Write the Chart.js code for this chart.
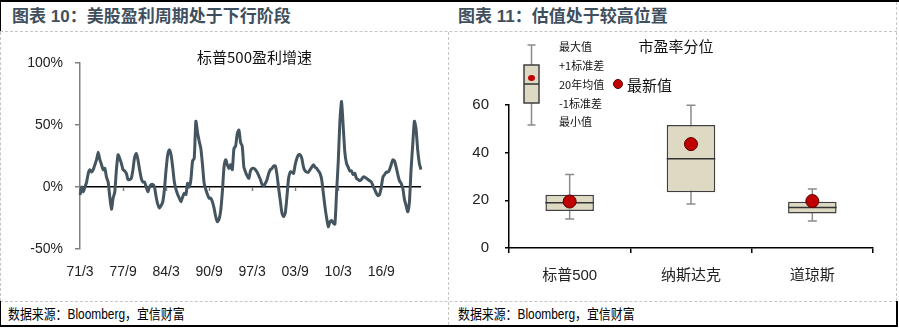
<!DOCTYPE html>
<html>
<head>
<meta charset="utf-8">
<script src="https://cdn.jsdelivr.net/npm/chart.js@4.4.0/dist/chart.umd.min.js"></script>
<style>
  body { margin: 0; background: #fff; }
  #page { position: relative; width: 899px; height: 330px; overflow: hidden; font-family: "Liberation Sans", "Noto Sans CJK SC", sans-serif; }
  .line { position: absolute; }
  .head { position: absolute; top: 3px; height: 28px; line-height: 28px; font-size: 17px; font-weight: bold; color: #404f5e; white-space: nowrap; }
  .source { position: absolute; top: 303px; height: 22px; line-height: 22px; font-size: 14px; color: #000; white-space: nowrap; transform: scaleX(0.85); transform-origin: left center; }
  canvas { position: absolute; top: 32px; }
</style>
</head>
<body>
<div id="page">
  <div class="line" style="left:0;top:0;width:899px;height:2px;background:#000"></div>
  <div class="line" style="left:0;top:0;width:1px;height:31px;background:#000"></div>
  <div class="line" style="left:0;top:31px;width:897px;border-top:1px dashed #c6c6c6"></div>
  <div class="line" style="left:0;top:32px;height:269px;border-left:1px dashed #c6c6c6"></div>
  <div class="line" style="left:448px;top:32px;height:293px;border-left:1px dashed #c6c6c6"></div>
  <div class="line" style="left:896px;top:2px;height:299px;border-left:1px dashed #c6c6c6"></div>
  <div class="line" style="left:0;top:301px;width:897px;border-top:1px dashed #c6c6c6"></div>
  <div class="line" style="left:0;top:301px;width:1px;height:25px;background:#000"></div>
  <div class="line" style="left:896px;top:301px;width:2px;height:25px;background:#000"></div>
  <div class="line" style="left:0;top:325px;width:898px;height:2px;background:#000"></div>

  <div class="head" style="left:12px">图表 10：美股盈利周期处于下行阶段</div>
  <div class="head" style="left:458px">图表 11：估值处于较高位置</div>
  <div class="source" style="left:8px">数据来源：Bloomberg，宜信财富</div>
  <div class="source" style="left:458px">数据来源：Bloomberg，宜信财富</div>

  <canvas id="growthChart" width="448" height="268" style="left:0"></canvas>
  <canvas id="peChart" width="446" height="268" style="left:450px"></canvas>
</div>

<script>
// 标普500盈利同比增速（%），季度，1971/3 起
const growth = [
  -6.5, 0, -4, 0, 4, 11, 14, 12, 14, 18,
  22, 28, 22, 18, 14, 15, 8, 4, -8, -18,
  -9, -4, 14, 26, 23, 19, 14, 13, 11, 6,
  6, 7, 14, 24, 27, 22, 14, 7, 4, 4,
  0, -4, 0, 2, 2, 0, -8, -14, -17, -15,
  -12, -2, 14, 26, 30, 26, 16, 4, -2, -6,
  -9, -12, -8, -5, -6, 3, 0, 6, 21, 23,
  53, 44, 37, 31, 18, 3, -2, -6, -9, -9,
  -12, -17, -24, -28, -26, -19, -4, 16, 22, 18,
  15, 18, 14, 31, 33, 43, 46, 36, 33, 16,
  12, 9, 7, 13, 15, 15, 14, 12, 9, 6,
  2, 1, 3, 6, 11, 14, 15, 17, 17, 10,
  -1, -11, -21, -24, -21, -8, 7, 12, 12, 11,
  18, 23, 26, 26, 23, 16, 13, 12, 12, 14,
  16, 18, 16, 15, 13, 11, 6, -5, -16, -25,
  -32, -28, -27, -29, -30, -4, 20, 53, 69, 49,
  28, 19, 16, 13, 13, 10, 11, 7, 6, 5,
  6, 8, 8, 7, 6, 5, 4, 1, -2, -5,
  -7, -6, 0, 8, 10, 12, 12, 14, 18, 22,
  21, 16, 10, 5, 3, -1, -10, -15, -20, -12,
  14, 34, 53, 47, 30, 19, 14
];
const xTickLabels = ['71/3', '77/9', '84/3', '90/9', '97/3', '03/9', '10/3', '16/9'];

// 市盈率分位
const markets = ['标普500', '纳斯达克', '道琼斯'];
const peMax = [30.8, 59.9, 24.8];
const peUpper = [22.3, 51.6, 19.4];
const peMean = [19.0, 37.5, 17.0];
const peLower = [15.5, 23.4, 14.5];
const peMin = [12.2, 18.5, 11.3];
const peLatest = [19.5, 43.6, 19.7];

const cjk = '"Noto Sans CJK SC", sans-serif';
const latin = '"Liberation Sans", "Noto Sans CJK SC", sans-serif';
const lineColor = '#44555f';

// quarter labels like 71/3, 71/6 ...
const quarterLabels = growth.map((_, i) => {
  const year = 1971 + Math.floor(i / 4);
  const month = (i % 4) * 3 + 3;
  return String(year % 100).padStart(2, '0') + '/' + month;
});

const growthExtras = {
  id: 'growthExtras',
  beforeDatasetsDraw(chart) {
    const { ctx, scales: { x, y } } = chart;
    const y0 = y.getPixelForValue(0);
    ctx.save();
    ctx.strokeStyle = '#808080';
    ctx.lineWidth = 1.5;
    quarterLabels.forEach((lab, i) => {
      if (!xTickLabels.includes(lab)) return;
      const px = Math.round(x.getPixelForValue(i)) + 0.5;
      ctx.beginPath();
      ctx.moveTo(px, y0);
      ctx.lineTo(px, y0 + 4);
      ctx.stroke();
    });
    ctx.restore();
  },
  afterDraw(chart) {
    const { ctx, chartArea } = chart;
    ctx.save();
    ctx.font = '15px ' + cjk;
    ctx.fillStyle = '#111';
    ctx.textAlign = 'center';
    ctx.textBaseline = 'middle';
    ctx.fillText('标普500盈利增速', (chartArea.left + chartArea.right) / 2 + 4, chartArea.top - 6);
    ctx.restore();
  }
};

new Chart(document.getElementById('growthChart'), {
  type: 'line',
  data: {
    labels: quarterLabels,
    datasets: [{
      data: growth,
      borderColor: lineColor,
      borderWidth: 3,
      pointRadius: 0,
      tension: 0.2,
      fill: false
    }]
  },
  options: {
    responsive: false,
    animation: false,
    layout: { padding: { top: 31, right: 27, left: 0, bottom: 0 } },
    plugins: { legend: { display: false }, tooltip: { enabled: false } },
    scales: {
      x: {
        offset: false,
        grid: { display: false },
        border: { display: false },
        ticks: {
          autoSkip: false,
          maxRotation: 0,
          padding: 7,
          color: '#222',
          font: { size: 14, family: latin },
          callback: (v, i) => xTickLabels.includes(quarterLabels[i]) ? quarterLabels[i] : null
        },
        afterFit: s => { s.height = 51; }
      },
      y: {
        min: -50,
        max: 100,
        ticks: {
          stepSize: 50,
          padding: 12,
          color: '#222',
          font: { size: 14, family: latin },
          callback: v => v + '%'
        },
        grid: {
          color: c => c.tick.value === 0 ? '#000' : 'rgba(0,0,0,0)',
          tickColor: '#808080',
          tickLength: 5,
          lineWidth: 1.5
        },
        border: { color: '#808080', width: 1.5 },
        afterFit: s => { s.width = 80; }
      }
    }
  },
  plugins: [growthExtras]
});

// whiskers, mean line and the key above the boxes
const boxExtras = {
  id: 'boxExtras',
  beforeDatasetsDraw(chart) {
    const { ctx, scales: { y } } = chart;
    const bars = chart.getDatasetMeta(0).data;
    ctx.save();
    ctx.strokeStyle = '#8c8c8c';
    ctx.lineWidth = 1.5;
    bars.forEach((bar, i) => {
      const top = y.getPixelForValue(peMax[i]);
      const bottom = y.getPixelForValue(peMin[i]);
      ctx.beginPath();
      ctx.moveTo(bar.x, top);
      ctx.lineTo(bar.x, bottom);
      ctx.moveTo(bar.x - 4.5, top);
      ctx.lineTo(bar.x + 4.5, top);
      ctx.moveTo(bar.x - 4.5, bottom);
      ctx.lineTo(bar.x + 4.5, bottom);
      ctx.stroke();
    });
    ctx.restore();
  },
  afterDatasetDraw(chart, args) {
    if (args.index !== 0) return;
    const { ctx, scales: { y } } = chart;
    ctx.save();
    ctx.strokeStyle = '#333';
    ctx.lineWidth = 1.5;
    args.meta.data.forEach((bar, i) => {
      const py = y.getPixelForValue(peMean[i]);
      ctx.beginPath();
      ctx.moveTo(bar.x - bar.width / 2, py);
      ctx.lineTo(bar.x + bar.width / 2, py);
      ctx.stroke();
    });
    ctx.restore();
  },
  afterDraw(chart) {
    const { ctx, chartArea } = chart;
    const bx = chartArea.left + 15, bw = 15, cx = bx + bw / 2;
    const t = chartArea.top;
    ctx.save();
    // key box
    ctx.strokeStyle = '#8c8c8c';
    ctx.lineWidth = 1.5;
    ctx.beginPath();
    ctx.moveTo(cx, t - 60); ctx.lineTo(cx, t + 20);
    ctx.moveTo(cx - 4, t - 60); ctx.lineTo(cx + 4, t - 60);
    ctx.moveTo(cx - 4, t + 20); ctx.lineTo(cx + 4, t + 20);
    ctx.stroke();
    ctx.fillStyle = '#ddd9c3';
    ctx.strokeStyle = '#3f3f3f';
    ctx.fillRect(bx, t - 40, bw, 38);
    ctx.strokeRect(bx, t - 40, bw, 38);
    ctx.strokeStyle = '#333';
    ctx.beginPath();
    ctx.moveTo(bx, t - 21); ctx.lineTo(bx + bw, t - 21);
    ctx.stroke();
    ctx.fillStyle = '#c00000';
    ctx.beginPath();
    ctx.ellipse(cx, t - 27, 3.5, 3, 0, 0, Math.PI * 2);
    ctx.fill();

    ctx.fillStyle = '#111';
    ctx.textBaseline = 'middle';
    ctx.font = '11px ' + cjk;
    const keyX = chartArea.left + 50;
    ['最大值', '+1标准差', '20年均值', '-1标准差', '最小值'].forEach((s, k) => {
      ctx.fillText(s, keyX, t - 58 + k * 18.8);
    });
    // latest value key
    ctx.fillStyle = '#c00000';
    ctx.strokeStyle = '#5a0000';
    ctx.lineWidth = 1;
    ctx.beginPath();
    ctx.arc(chartArea.left + 109, t - 21, 4.5, 0, Math.PI * 2);
    ctx.fill();
    ctx.stroke();
    ctx.fillStyle = '#111';
    ctx.font = '15px ' + cjk;
    ctx.fillText('最新值', chartArea.left + 118, t - 20);
    ctx.textAlign = 'center';
    ctx.fillText('市盈率分位', chartArea.left + 167, t - 59);
    ctx.restore();
  }
};

new Chart(document.getElementById('peChart'), {
  type: 'bar',
  data: {
    labels: markets,
    datasets: [{
      type: 'bar',
      order: 2,
      data: markets.map((_, i) => [peLower[i], peUpper[i]]),
      backgroundColor: '#ddd9c3',
      borderColor: '#3f3f3f',
      borderWidth: 1.5,
      borderSkipped: false,
      barPercentage: 0.4,
      categoryPercentage: 1
    }, {
      type: 'line',
      order: 1,
      data: peLatest,
      showLine: false,
      pointRadius: 6.5,
      pointBackgroundColor: '#c00000',
      pointBorderColor: '#5a0000',
      pointBorderWidth: 1
    }]
  },
  options: {
    responsive: false,
    animation: false,
    layout: { padding: { top: 73, right: 23, left: 0, bottom: 0 } },
    plugins: { legend: { display: false }, tooltip: { enabled: false } },
    scales: {
      x: {
        grid: { drawOnChartArea: false, tickLength: 5, color: '#000', lineWidth: 1.5 },
        border: { color: '#000', width: 1.5 },
        ticks: { padding: 14, color: '#222', font: { size: 15, family: latin } },
        afterFit: s => { s.height = 52; }
      },
      y: {
        min: 0,
        max: 60,
        ticks: { stepSize: 20, padding: 16, color: '#222', font: { size: 15, family: latin } },
        grid: { drawOnChartArea: false, tickLength: 4, color: '#000', lineWidth: 1.5 },
        border: { color: '#000', width: 1.5 },
        afterFit: s => { s.width = 59; }
      }
    }
  },
  plugins: [boxExtras]
});
</script>
</body>
</html>
